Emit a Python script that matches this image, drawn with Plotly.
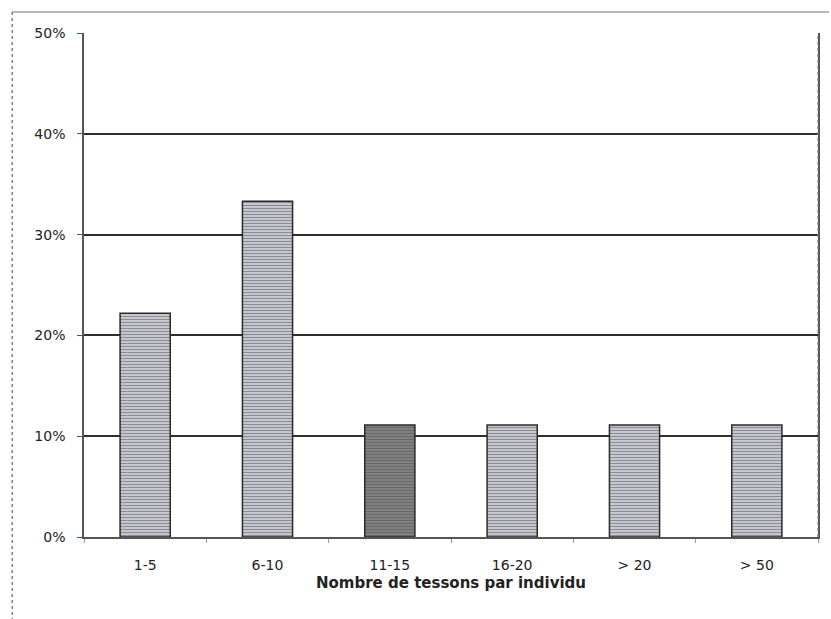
import plotly.graph_objects as go

# Share of individuals by number of sherds
categories = ["1-5", "6-10", "11-15", "16-20", "> 20", "> 50"]
shares = [0.222, 0.333, 0.111, 0.111, 0.111, 0.111]
y_ticks = [0, 0.1, 0.2, 0.3, 0.4, 0.5]
y_tick_labels = ["0%", "10%", "20%", "30%", "40%", "50%"]
x_title = "Nombre de tessons par individu"

W, H = 831, 619
L, R, T, B = 84, 11, 33, 82

fill_colors = ["#c6c6d0", "#c6c6d0", "#8c8c8c", "#c6c6d0", "#c6c6d0", "#c6c6d0"]
pattern_fg = ["#a9a9b4", "#a9a9b4", "#000000", "#a9a9b4", "#a9a9b4", "#a9a9b4"]
pattern_sol = [0.3, 0.3, 0.55, 0.3, 0.3, 0.3]

fig = go.Figure()
fig.add_trace(go.Bar(
    x=categories,
    y=shares,
    width=0.41,
    marker=dict(
        color=fill_colors,
        line=dict(color="#2a2a2a", width=1.5),
        pattern=dict(shape="-", fgcolor=pattern_fg, size=3,
                     solidity=pattern_sol, fillmode="overlay"),
    ),
    hoverinfo="x+y",
))

def px_x(p):
    return (p - L) / (W - L - R)

def px_y(p):
    return (H - B - p) / (H - T - B)

# Outer chart frame (left and top edges)
fig.add_shape(type="line", xref="paper", yref="paper",
              x0=px_x(12), x1=px_x(12), y0=px_y(12), y1=px_y(619),
              line=dict(color="#666666", width=1.2, dash="dot"))
fig.add_shape(type="line", xref="paper", yref="paper",
              x0=px_x(12), x1=px_x(831), y0=px_y(12), y1=px_y(12),
              line=dict(color="#777777", width=1.2))
# right border of the plot area
fig.add_shape(type="line", xref="paper", yref="paper",
              x0=1, x1=1, y0=0, y1=1,
              line=dict(color="#777777", width=1.2, dash="dot"))

fig.update_layout(
    width=W, height=H,
    margin=dict(l=L, r=R, t=T, b=B),
    paper_bgcolor="white",
    plot_bgcolor="white",
    font=dict(family="DejaVu Sans, Arial, sans-serif", size=14, color="#222222"),
    showlegend=False,
)
fig.update_xaxes(
    type="category",
    showline=True, linecolor="#555555", linewidth=1.5,
    ticks="outside", tickson="boundaries", ticklen=4, tickcolor="#999999",
    tickfont=dict(size=14), ticklabelstandoff=14,
    title=dict(text="<b>" + x_title + "</b>", font=dict(size=15), standoff=6),
    showgrid=False,
)
fig.update_yaxes(
    range=[0, 0.5],
    tickvals=y_ticks, ticktext=y_tick_labels,
    showgrid=True, gridcolor="#2e2e2e", gridwidth=1.5,
    showline=True, linecolor="#555555", linewidth=1.5, mirror=True,
    ticks="outside", ticklen=5, tickcolor="#555555",
    tickfont=dict(size=14), ticklabelstandoff=9,
    zeroline=False,
)

fig.write_html("out.html")
